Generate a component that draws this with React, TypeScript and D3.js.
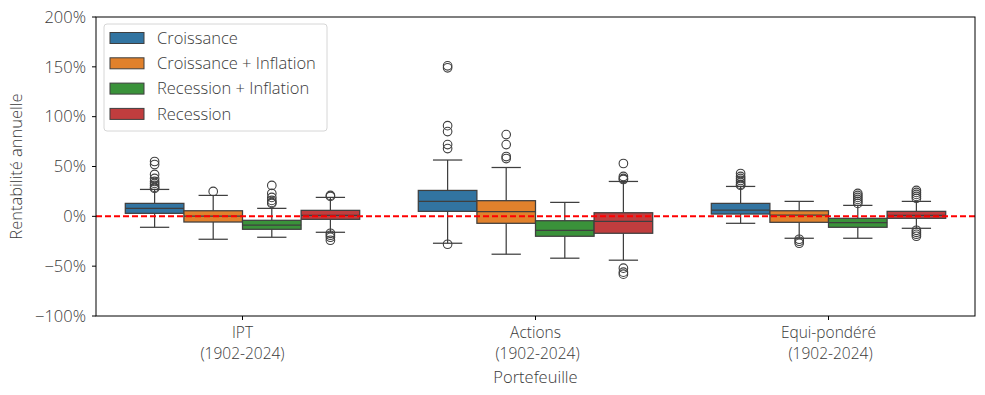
import * as d3 from "d3";
import { useEffect, useRef } from "react";

const portfolios = ["IPT\n(1902-2024)", "Actions\n (1902-2024)", "Equi-pondéré\n (1902-2024)"];
const regimes = ["Croissance", "Croissance + Inflation", "Recession + Inflation", "Recession"];
const colors = ["#3274a1", "#e1812c", "#3a923a", "#c03d3e"];

// per regime, values for [IPT, Actions, Equi-pondéré] in %
const q1 = [
    [3, 5, 2.3],
    [-5.7, -7, -6],
    [-13, -20, -11],
    [-3, -17, -2],
];
const medians = [
    [8, 15, 6.3],
    [0.3, 4.6, 1.3],
    [-8.7, -14, -6.4],
    [1, -5, 1],
];
const q3 = [
    [13, 26, 13],
    [5.6, 15.7, 5.6],
    [-4, -4.4, -2],
    [6, 3.6, 5],
];
const whiskerLow = [
    [-11, -27, -7],
    [-23, -38, -22],
    [-21, -42, -22],
    [-16, -44, -12],
];
const whiskerHigh = [
    [27, 56.5, 30],
    [21, 49, 15],
    [8, 14, 11],
    [19, 35, 15],
];
const outliers = [
    [
        [55, 52, 42, 38, 35, 33, 31, 29, 28],
        [151, 149, 91, 85, 72, 68, -28],
        [43, 40, 38, 36, 34, 32, 31],
    ],
    [[25], [82, 72, 60, 58], [-23, -25, -27]],
    [
        [31, 23, 19, 16, 14, 13],
        [],
        [23, 21, 19, 17, 15, 13],
    ],
    [
        [21, 20, -17, -19, -21, -24],
        [53, 40, 38, 37, -52, -56, -58],
        [26, 24, 22, 20, 18, -14, -16, -18, -20],
    ],
];
const yTicks = [-100, -50, 0, 50, 100, 150, 200];

export default function App() {
    const ref = useRef<SVGSVGElement | null>(null);

    useEffect(() => {
        if (!ref.current) return;
        document.body.style.margin = "0";
        const svg = d3.select(ref.current);
        svg.selectAll("*").remove();

        const width = 985;
        const height = 395;
        const margin = { top: 17, right: 10, bottom: 79, left: 96 };
        const font = "'Open Sans', Lato, sans-serif";
        const fs = 16.5;
        const textColor = "#3a3a3a";
        const edge = "#3f3f3f";

        svg.attr("width", width)
            .attr("height", height)
            .style("font-family", font)
            .style("font-weight", 300);

        const x = d3
            .scaleBand<string>()
            .domain(portfolios)
            .range([margin.left, width - margin.right]);
        const inner = d3
            .scaleBand<string>()
            .domain(regimes)
            .range([x.bandwidth() * 0.1, x.bandwidth() * 0.9]);
        const y = d3
            .scaleLinear()
            .domain([-100, 200])
            .range([height - margin.bottom, margin.top]);

        const bw = inner.bandwidth();

        regimes.forEach((r, ri) => {
            portfolios.forEach((p, pi) => {
                const x0 = x(p)! + inner(r)!;
                const cx = x0 + bw / 2;
                const g = svg.append("g");
                // whiskers
                g.append("line")
                    .attr("x1", cx).attr("x2", cx)
                    .attr("y1", y(q3[ri][pi])).attr("y2", y(whiskerHigh[ri][pi]))
                    .attr("stroke", edge).attr("stroke-width", 1.25);
                g.append("line")
                    .attr("x1", cx).attr("x2", cx)
                    .attr("y1", y(q1[ri][pi])).attr("y2", y(whiskerLow[ri][pi]))
                    .attr("stroke", edge).attr("stroke-width", 1.25);
                for (const v of [whiskerHigh[ri][pi], whiskerLow[ri][pi]]) {
                    g.append("line")
                        .attr("x1", cx - bw / 4).attr("x2", cx + bw / 4)
                        .attr("y1", y(v)).attr("y2", y(v))
                        .attr("stroke", edge).attr("stroke-width", 1.25);
                }
                g.append("rect")
                    .attr("x", x0)
                    .attr("width", bw)
                    .attr("y", y(q3[ri][pi]))
                    .attr("height", y(q1[ri][pi]) - y(q3[ri][pi]))
                    .attr("fill", colors[ri])
                    .attr("stroke", edge)
                    .attr("stroke-width", 1.25);
                g.append("line")
                    .attr("x1", x0).attr("x2", x0 + bw)
                    .attr("y1", y(medians[ri][pi])).attr("y2", y(medians[ri][pi]))
                    .attr("stroke", edge).attr("stroke-width", 1.25);
                g.selectAll("circle.fl")
                    .data(outliers[ri][pi])
                    .enter()
                    .append("circle")
                    .attr("cx", cx)
                    .attr("cy", (d) => y(d))
                    .attr("r", 4.3)
                    .attr("fill", "none")
                    .attr("stroke", edge)
                    .attr("stroke-width", 1.1);
            });
        });

        // zero line
        svg.append("line")
            .attr("x1", margin.left).attr("x2", width - margin.right)
            .attr("y1", y(0)).attr("y2", y(0))
            .attr("stroke", "red")
            .attr("stroke-width", 2)
            .attr("stroke-dasharray", "6,3");

        // frame
        svg.append("rect")
            .attr("x", margin.left)
            .attr("y", margin.top)
            .attr("width", width - margin.left - margin.right)
            .attr("height", height - margin.top - margin.bottom)
            .attr("fill", "none")
            .attr("stroke", "#000")
            .attr("stroke-width", 1);

        // y axis
        const yAxis = svg.append("g");
        yTicks.forEach((t) => {
            yAxis.append("line")
                .attr("x1", margin.left - 4).attr("x2", margin.left)
                .attr("y1", y(t)).attr("y2", y(t))
                .attr("stroke", "#000");
            yAxis.append("text")
                .attr("x", margin.left - 10)
                .attr("y", y(t))
                .attr("dy", "0.35em")
                .attr("text-anchor", "end")
                .attr("font-size", fs)
                .attr("fill", textColor)
                .text(`${t < 0 ? "\u2212" + Math.abs(t) : t}%`);
        });
        svg.append("text")
            .attr("transform", `translate(22,${(margin.top + height - margin.bottom) / 2}) rotate(-90)`)
            .attr("text-anchor", "middle")
            .attr("font-size", fs)
            .attr("fill", textColor)
            .text("Rentabilité annuelle");

        // x axis
        portfolios.forEach((p) => {
            const cx = x(p)! + x.bandwidth() / 2;
            svg.append("line")
                .attr("x1", cx).attr("x2", cx)
                .attr("y1", height - margin.bottom).attr("y2", height - margin.bottom + 4)
                .attr("stroke", "#000");
            p.split("\n").forEach((line, li) => {
                svg.append("text")
                    .attr("x", cx)
                    .attr("y", 338 + li * 21)
                    .attr("text-anchor", "middle")
                    .attr("font-size", 15.5)
                    .attr("fill", textColor)
                    .style("white-space", "pre")
                    .text(line);
            });
        });
        svg.append("text")
            .attr("x", x(portfolios[1])! + x.bandwidth() / 2)
            .attr("y", 383)
            .attr("text-anchor", "middle")
            .attr("font-size", fs)
            .attr("fill", textColor)
            .text("Portefeuille");

        // legend
        const lg = svg.append("g").attr("transform", "translate(104,24)");
        lg.append("rect")
            .attr("width", 223)
            .attr("height", 107)
            .attr("rx", 3)
            .attr("fill", "white")
            .attr("fill-opacity", 0.8)
            .attr("stroke", "#d6d6d6");
        regimes.forEach((r, i) => {
            const ry = 14 + i * 25.3;
            lg.append("rect")
                .attr("x", 6)
                .attr("y", ry - 5.5)
                .attr("width", 34)
                .attr("height", 11)
                .attr("fill", colors[i])
                .attr("stroke", edge)
                .attr("stroke-width", 1);
            lg.append("text")
                .attr("x", 53)
                .attr("y", ry)
                .attr("dy", "0.35em")
                .attr("font-size", fs)
                .attr("fill", textColor)
                .text(r);
        });
    }, []);

    return <svg ref={ref}></svg>;
}
